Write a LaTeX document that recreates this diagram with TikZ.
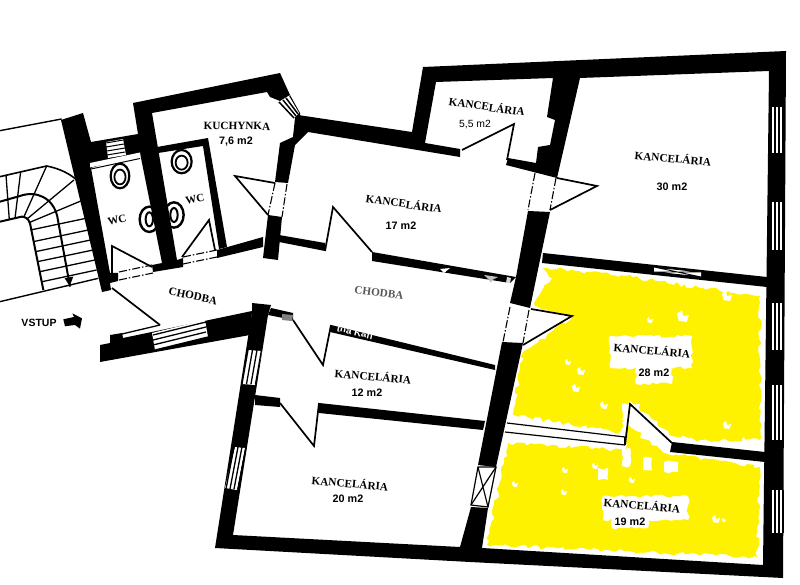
\documentclass[tikz,border=0pt]{standalone}
\usepackage{fontspec}
\setmainfont{Liberation Serif}
\setsansfont{Liberation Sans}
\usetikzlibrary{decorations.pathmorphing}
\tikzset{
  wall/.style={fill=black,draw=none},
  doorline/.style={draw=black,line width=1.7pt,line join=miter,fill=none},
  thin line/.style={draw=black,line width=1.2pt},
  jamb/.style={draw=black,line width=1.1pt,dash pattern=on 8pt off 2pt on 1.5pt off 2pt},
  room/.style={font=\rmfamily\bfseries\fontsize{11.2}{13}\selectfont,inner sep=0pt},
  wclabel/.style={font=\rmfamily\bfseries\fontsize{11}{13}\selectfont,inner sep=0pt},
  area/.style={font=\sffamily\bfseries\fontsize{10.8}{12}\selectfont,inner sep=0pt},
  halo/.style={fill=white,draw=none,decorate,decoration={random steps,segment length=4pt,amplitude=1.6pt}},
  yel/.style={fill=yellow,draw=none,decorate,decoration={random steps,segment length=4pt,amplitude=2pt}},
}
\pgfmathsetseed{7}
\begin{document}
\begin{tikzpicture}[x=1pt,y=-1pt]
\useasboundingbox (0,0) rectangle (800,585);
\fill[white] (0,0) rectangle (800,585);

% ---- yellow rooms
\fill[yel] (543,268) -- (625,276) -- (700,288) -- (760,296) -- (760,440) -- (700,440) -- (672,436) -- (630,400) -- (620,432) -- (513,415) -- (523,352) -- (572,318) -- (535,306) -- (537,298) -- (552,278) -- cycle;
\fill[yel] (508,443) -- (625,450) -- (628,425) -- (665,453) -- (760,467) -- (757,557) -- (487,545) -- cycle;
% white halos and speckles
\foreach \a/\b/\c/\d in {610/336/692/368,636/366/672/384,603/496/688/520,612/518/648/528,622/404/640/420,640/426/652/438,622/448/630/466,643/458/652/470,664/462/678/472,598/468/608/480}
  {\fill[halo] (\a,\b) -- (\c,\b) -- (\c,\d) -- (\a,\d) -- cycle;}
\foreach \a/\b/\r in {727/296/5,683/316/6,568/362/3,581/371/4,576/388/4,604/405/4,727/425/4,565/470/3,515/484/3,564/492/3,716/519/4,724/520/2,595/466/3,632/480/3,650/320/3,525/420/2,745/440/3}
  {\fill[white] (\a,\b) -- +(\r,-1) -- +(\r*0.6,\r) -- +(-\r*0.7,\r*0.8) -- +(-\r,-\r*0.4) -- +(-1,-\r) -- cycle;}

% ---- stairs (coordinates of a 3x enlargement)
\begin{scope}[x=0.3333pt,y=-0.3333pt,shift={(0,180)}]
  \draw[line width=1.4pt] (0,212) -- (185,177);
  \draw[line width=1.4pt] (0,725) -- (295,655);
  \draw[line width=1.6pt] (0,350) -- (140,318) .. controls (175,325) and (210,340) .. (232,362);
  \draw[line width=2pt] (0,425) -- (60,408) .. controls (110,390) and (160,415) .. (172,470) -- (210,680);
  \draw[line width=2pt] (0,485) -- (65,470) .. controls (75,470) and (85,475) .. (90,490) -- (130,690);
  \foreach \a/\b/\c/\d in {18/345/28/480,62/335/45/475,140/318/72/470,222/360/80/478,245/422/87/488,92/510/258/475,100/545/265/510,107/575/272/540,113/605/280/570,120/635/285/600,127/665/290/630}
    {\draw[line width=1.3pt] (\a,\b) -- (\c,\d);}
  \fill (194,655) -- (220,650) -- (209,678) -- cycle;
  % WC fixtures
  \foreach \a/\b/\rx/\ry in {360/348/28/37,545/305/30/35}
    {\draw[line width=2.2pt] (\a,\b) ellipse ({\rx} and {\ry});
     \draw[line width=1.8pt] (\a,\b+3) ellipse ({\rx*0.6} and {\ry*0.6});}
  \foreach \a/\b in {448/478,522/465}
    {\draw[line width=2.4pt] (\a,\b) ellipse (29 and 38);
     \draw[line width=2pt] (\a,\b) ellipse (11 and 21);}
  % vstup arrow
  \fill (190,778) -- (222,771) -- (217,760) -- (246,775) -- (240,806) -- (225,795) -- (195,799) -- cycle;
\end{scope}

% ---- walls
% staircase / WC left wall with the kitchen top wall
\fill[wall] (61,120) -- (83,113) -- (91,142) -- (138,134) -- (133,103) -- (280,73) -- (290,95) -- (280,101) -- (270,97) -- (267,92) -- (152,113) -- (177,260) -- (183,258) -- (183,267) -- (153,272) -- (152,265) -- (162,263) -- (140,153) -- (91,168) -- (110,273) -- (118,273) -- (118,281) -- (110,283) -- (111,290) -- (102,292) -- cycle;
\fill[white] (106,142) -- (123,139) -- (126,155) -- (108,158) -- cycle;
\draw[line width=1pt] (106,143) -- (123,140) (106,147) -- (124,144) (107,151) -- (125,148) (107,155) -- (125,152);
\fill[white] (90,163) -- (140,152.5) -- (140,157) -- (90,167.5) -- cycle;
\draw[line width=1pt] (91,169) -- (140,158.5);
% WC partition
\fill[wall] (157,147) -- (208,138) -- (227,247) -- (219,249) -- (203,146) -- (158,153) -- cycle;
% kitchen bottom wall
\fill[wall] (217,250) -- (263,237) -- (263,247) -- (217,258) -- cycle;
% kitchen window and corner
\fill[wall] (290,95) -- (300,113) -- (302,135) -- (293,137) -- (295,118) -- (285,104) -- cycle;
\fill[white] (279,102) -- (289,96) -- (299,113) -- (294,118) -- cycle;
\draw[line width=1.5pt] (279,102) -- (294,118) (283,100) -- (296,116) (286,98) -- (298,114);
% outer shell
\fill[wall] (298,115) -- (412,132) -- (423,67) -- (786,51) -- (783,578) -- (470,562) -- (215,548) -- (252,312) -- (252,303) -- (271,305) -- (268,315) -- (233,535) -- (460,547) -- (471,507) -- (488,508) -- (482,548) -- (763,565) -- (769,71) -- (580,78) -- (557,178) -- (506,165) -- (508,158) -- (536,163) -- (538,147) -- (550,145) -- (555,120) -- (547,117) -- (553,78) -- (436,82) -- (425,143) -- (460,149) -- (460,157) -- (308,132) -- (295,145) -- (288,183) -- (275,182) -- (280,143) -- (293,137) -- cycle;
% lower kitchen wall
\fill[wall] (268,215) -- (282,217) -- (278,260) -- (263,258) -- cycle;
\fill[wall] (279,235) -- (325,243) -- (325,251) -- (279,242) -- cycle;
\fill[wall] (372,252) -- (516,277) -- (510,283) -- (372,261) -- cycle;
% centre wall
\fill[wall] (528,211) -- (550,212) -- (530,308) -- (510,303) -- (516,277) -- cycle;
\fill[wall] (502,342) -- (523,343) -- (496,467) -- (478,465) -- cycle;
% worn patches on the corridor wall
\fill[black!15] (507,277) -- (511,278) -- (510,283) -- (506,283) -- cycle;
\fill[white] (440,269) -- (450,268) -- (444,273) -- cycle;
\fill[black!25] (484,275) -- (498,277) -- (492,280) -- (491,283) -- (489,280) -- cycle;
% walls between rooms
\fill[wall] (543,253) -- (767,277) -- (767,287) -- (542,263) -- cycle;
\fill[wall] (672,442) -- (765,452) -- (765,462) -- (670,452) -- cycle;
\fill[wall] (271,308) -- (293,313) -- (293,320) -- (268,315) -- cycle;
\fill[gray] (282,314) -- (293,315) -- (292,321) -- (282,320) -- cycle;
\fill[wall] (331,325) -- (495,365) -- (495,370) -- (330,332) -- cycle;
\begin{scope}
  \clip (331,325) -- (495,365) -- (495,370) -- (330,332) -- cycle;
  \node[font=\sffamily\bfseries\fontsize{10}{12}\selectfont,text=white,inner sep=0pt,rotate=-13] (wm) at (355,332) {tna Kan};
\end{scope}
\fill[wall] (255,395) -- (280,398) -- (280,407) -- (255,405) -- cycle;
\fill[wall] (319,403) -- (485,421) -- (483,430) -- (319,413) -- cycle;
% corridor lower-left wall
\fill[wall] (100,345) -- (110,343) -- (110,335) -- (122,333) -- (123,338) -- (252,311) -- (250,335) -- (100,362) -- cycle;
\fill[white] (152,333) -- (205,320) -- (208,337) -- (155,350) -- cycle;
\foreach \k in {0,1,2} {\draw[line width=1.3pt] (153,{335+5*\k}) -- (206,{322+5*\k});}
\draw[line width=1.3pt] (155,350) -- (208,337);
\draw[line width=1.3pt] (122,334) -- (160,325);

% ---- door swings
\draw[doorline] (325,251) -- (333,207) -- (372,252);
\draw[doorline] (462,150) -- (514,124) -- (507,160);
\draw[doorline] (557,178) -- (597,186) -- (550,210);
\draw[doorline] (531,309) -- (572,316) -- (523,345);
\draw[doorline] (112,288) -- (160,325);
\draw[doorline] (112,273) -- (112,246) -- (152,267);
\draw[doorline] (182,257) -- (209,220) -- (215,250);
\draw[doorline] (275,183) -- (235,176) -- (268,215);
\draw[doorline] (293,320) -- (323,365) -- (331,325);
\draw[doorline] (280,403) -- (314,446) -- (319,403);
\draw[doorline] (625,445) -- (630,404) -- (672,443);
\draw[thin line] (507,423) -- (625,437);
\draw[thin line] (505,432) -- (625,445);
\draw[doorline] (625,437) -- (625,445);
% jambs
\draw[jamb] (535,173) -- (528,210);
\draw[jamb] (556,178) -- (550,210);
\draw[jamb] (510,307) -- (503,342);
\draw[jamb] (529,310) -- (523,343);
\draw[jamb] (275,183) -- (268,215);
\draw[jamb] (287,184) -- (282,217);
\draw[jamb] (119,272) -- (152,265);
\draw[jamb] (119,280) -- (153,273);
\draw[jamb] (183,257) -- (217,250);
\draw[jamb] (183,264) -- (217,257);

% ---- right wall windows
\foreach \a/\b in {107/153,202/250,303/350,385/440,490/533}{
  \fill[white] (771,\a) rectangle (784,\b);
  \foreach \t in {771,775,779,783}{\draw[line width=1.3pt] (\t,\a) -- (\t,\b);}
}
% ---- left wall windows
\fill[white] (248,350) -- (262,351) -- (255,385) -- (242,384) -- cycle;
\foreach \k in {0,1,2,3}{\draw[line width=1.3pt] ({248+4.5*\k},350) -- ({242+4.5*\k},384);}
\fill[white] (235,447) -- (245,448) -- (237,490) -- (225,488) -- cycle;
\foreach \k in {0,1,2,3}{\draw[line width=1.3pt] ({234+4*\k},447) -- ({226+4*\k},489);}
% ---- shaft with cross
\fill[white] (478,467) -- (496,467) -- (488,507) -- (471,505) -- cycle;
\draw[line width=1.2pt] (478,467) -- (496,467) -- (488,507) -- (471,505) -- cycle;
\draw[line width=1.2pt] (478,467) -- (488,507) (496,467) -- (471,505);
% window between 30 and 28 (cross)
\fill[white] (654,267) -- (701,272) -- (701,277) -- (654,272) -- cycle;
\draw[line width=0.9pt] (654,267) -- (701,277) (654,272) -- (701,272) (654,267) -- (701,272) (654,272) -- (701,277);

% ---- labels
\node[room,rotate=-1] (kuch) at (237,126) {KUCHYNKA};
\node[area] (a76) at (236,142) {7,6 m2};
\node[wclabel,rotate=15] (wc1) at (117,220) {WC};
\node[wclabel,rotate=12] (wc2) at (195,199) {WC};
\node[room,rotate=-12] (chod1) at (193,296) {CHODBA};
\node[room,rotate=-7,text=black!65] (chod2) at (379,293) {CHODBA};
\node[room,rotate=-8] (k55) at (487,106) {KANCELÁRIA};
\node[inner sep=0pt,font=\sffamily\fontsize{10.4}{12}\selectfont] (a55) at (475,125) {5,5 m2};
\node[room,rotate=-8] (k17) at (404,203) {KANCELÁRIA};
\node[area] (a17) at (401,226) {17 m2};
\node[room,rotate=-5] (k30) at (673,158) {KANCELÁRIA};
\node[area] (a30) at (672,187) {30 m2};
\node[room,rotate=-5] (k28) at (652,350) {KANCELÁRIA};
\node[area] (a28) at (654,373) {28 m2};
\node[room,rotate=-5] (k19) at (642,505) {KANCELÁRIA};
\node[area] (a19) at (630,522) {19 m2};
\node[room,rotate=-5] (k12) at (373,376) {KANCELÁRIA};
\node[area] (a12) at (367,393) {12 m2};
\node[room,rotate=-5] (k20) at (350,483) {KANCELÁRIA};
\node[area] (a20) at (348,499) {20 m2};
\node[font=\sffamily\bfseries\fontsize{10.5}{12}\selectfont,inner sep=0pt] (vst) at (39,323) {VSTUP};
\end{tikzpicture}
\end{document}
